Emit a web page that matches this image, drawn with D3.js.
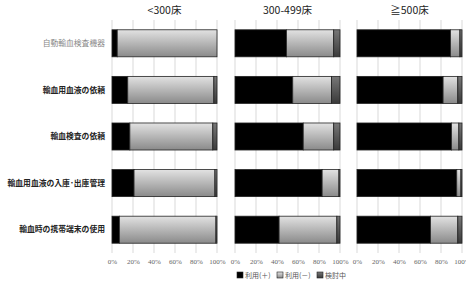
<!DOCTYPE html>
<html>
<head>
<meta charset="utf-8">
<script src="https://cdn.jsdelivr.net/npm/d3@7"></script>
<style>
  body { margin: 0; background: #fff; }
  svg { font-family: "Noto Sans CJK JP", "Noto Sans", sans-serif; }
</style>
</head>
<body>
<div id="chart"></div>
<script>
const categories = ["自動輸血検査機器", "輸血用血液の依頼", "輸血検査の依頼", "輸血用血液の入庫･出庫管理", "輸血時の携帯端末の使用"];
const panels = ["<300床", "300-499床", "≧500床"];
const seriesNames = ["利用(＋)", "利用(－)", "検討中"];
const ticks = [0, 20, 40, 60, 80, 100];

// percentages per panel, per category: [利用(+), 利用(-), 検討中]
const small = [[5, 95, 0], [15, 82, 3], [17, 79, 4], [21, 77, 2], [7, 92, 1]];
const mid = [[49, 45, 6], [55, 37, 8], [65, 29, 6], [83, 16, 1], [42, 55, 3]];
const large = [[89, 9, 2], [82, 14, 4], [90, 7, 3], [95, 4, 1], [70, 26, 4]];
const panelData = [small, mid, large];

const width = 466, height = 284;
const plotTop = 20, plotBottom = 253;
const panelLeft = [112, 235, 357];
const panelWidth = 105;

const svg = d3.select("#chart").append("svg")
  .attr("width", width)
  .attr("height", height);

const defs = svg.append("defs");
const gGray = defs.append("linearGradient").attr("id", "gray").attr("x1", 0).attr("y1", 0).attr("x2", 0).attr("y2", 1);
gGray.append("stop").attr("offset", "0%").attr("stop-color", "#e2e2e2");
gGray.append("stop").attr("offset", "100%").attr("stop-color", "#8a8a8a");
const gDark = defs.append("linearGradient").attr("id", "dark").attr("x1", 0).attr("y1", 0).attr("x2", 0).attr("y2", 1);
gDark.append("stop").attr("offset", "0%").attr("stop-color", "#777");
gDark.append("stop").attr("offset", "100%").attr("stop-color", "#3a3a3a");

const fills = ["#000", "url(#gray)", "url(#dark)"];

const y = d3.scaleBand()
  .domain(categories)
  .range([plotTop, plotBottom])
  .paddingInner(0.42)
  .paddingOuter(0.21);

panelData.forEach((rows, p) => {
  const x = d3.scaleLinear().domain([0, 100]).range([0, panelWidth]);
  const g = svg.append("g").attr("transform", `translate(${panelLeft[p]},0)`);

  // grid
  g.selectAll(".grid")
    .data(ticks)
    .enter().append("line")
    .attr("x1", d => x(d)).attr("x2", d => x(d))
    .attr("y1", plotTop).attr("y2", plotBottom)
    .attr("stroke", "#d9d9d9")
    .attr("stroke-width", 1);

  // x axis labels
  const axis = g.append("g")
    .attr("transform", `translate(0,${plotBottom})`)
    .call(d3.axisBottom(x).tickValues(ticks).tickFormat(d => d + "%").tickSize(0).tickPadding(6));
  axis.select(".domain").remove();
  axis.selectAll("text")
    .attr("font-family", "'Liberation Serif', serif")
    .attr("font-size", "7px")
    .attr("fill", "#666");

  // stacked bars
  rows.forEach((vals, i) => {
    const stacked = d3.cumsum(vals);
    const segs = vals.map((v, k) => ({ v, k, x0: stacked[k] - v, x1: stacked[k] }));
    g.selectAll(null)
      .data(segs.filter(s => s.v > 0))
      .enter().append("rect")
      .attr("x", s => x(s.x0))
      .attr("y", y(categories[i]))
      .attr("width", s => x(s.x1) - x(s.x0))
      .attr("height", y.bandwidth())
      .attr("fill", s => fills[s.k])
      .attr("stroke", "#222")
      .attr("stroke-width", 0.8);
  });

  // panel title
  svg.append("text")
    .attr("x", panelLeft[p] + panelWidth / 2)
    .attr("y", 14)
    .attr("text-anchor", "middle")
    .attr("font-size", "10.5px")
    .attr("fill", "#222")
    .text(panels[p]);
});

// category labels
svg.selectAll(".cat")
  .data(categories)
  .enter().append("text")
  .attr("x", 105)
  .attr("y", d => y(d) + y.bandwidth() / 2)
  .attr("dy", "0.35em")
  .attr("text-anchor", "end")
  .attr("font-size", "7.8px")
  .attr("font-weight", (d, i) => i === 0 ? "normal" : "bold")
  .attr("fill", (d, i) => i === 0 ? "#888" : "#222")
  .text(d => d);

// legend
const legend = svg.append("g").attr("transform", "translate(237,277)");
const legendX = [0, 40, 80];
seriesNames.forEach((name, k) => {
  legend.append("rect")
    .attr("x", legendX[k]).attr("y", -5)
    .attr("width", 6).attr("height", 6)
    .attr("fill", fills[k])
    .attr("stroke", "#222").attr("stroke-width", 0.6);
  legend.append("text")
    .attr("x", legendX[k] + 8).attr("y", 1)
    .attr("font-size", "7px")
    .attr("fill", "#555")
    .text(name);
});
</script>
</body>
</html>
